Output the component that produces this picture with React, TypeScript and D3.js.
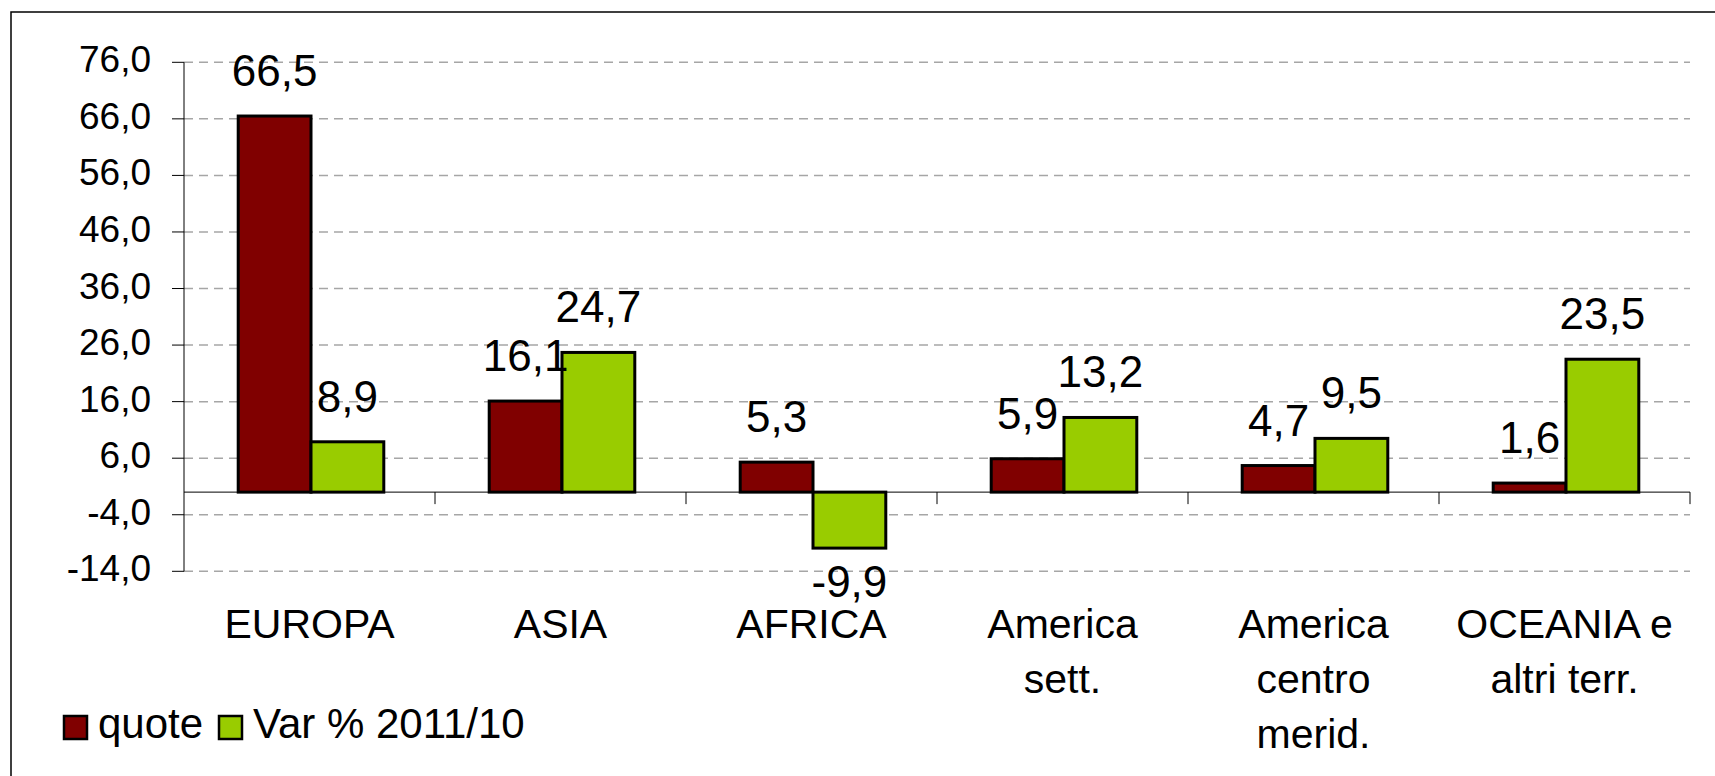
import React, { useRef, useEffect } from "react";
import * as d3 from "d3";

const categories = ["EUROPA", "ASIA", "AFRICA", "America sett.", "America centro merid.", "OCEANIA e altri terr."];
const categoryLines = [["EUROPA"], ["ASIA"], ["AFRICA"], ["America", "sett."], ["America", "centro", "merid."], ["OCEANIA e", "altri terr."]];
const seriesNames = ["quote", "Var % 2011/10"];
const quote = [66.5, 16.1, 5.3, 5.9, 4.7, 1.6];
const varPct = [8.9, 24.7, -9.9, 13.2, 9.5, 23.5];
const yTicks = [-14, -4, 6, 16, 26, 36, 46, 56, 66, 76];
const colors = ["#800000", "#99CC00"];

const W = 1715;
const H = 776;
const FONT = "'Liberation Sans', Arial, sans-serif";

const App = () => {
  const ref = useRef<SVGSVGElement>(null);

  useEffect(() => {
    const svg = d3.select(ref.current);
    svg.selectAll("*").remove();

    const it = d3.formatLocale({ decimal: ",", thousands: ".", grouping: [3], currency: ["", "€"], minus: "-" });
    const fmt = it.format(".1f");

    const left = 184, right = 1690, top = 62.3, bottom = 571.3;

    const y = d3.scaleLinear().domain([-14, 76]).range([bottom, top]);
    const x = d3.scaleBand().domain(categories).range([left, right]).padding(0);
    const groupW = x.bandwidth() * 0.58;
    const x1 = d3.scaleBand().domain(seriesNames).range([0, groupW]).padding(0);

    // frame
    svg.append("rect")
      .attr("x", 11).attr("y", 12)
      .attr("width", W + 20).attr("height", H + 20)
      .attr("fill", "white").attr("stroke", "#000").attr("stroke-width", 1.5);

    // grid
    svg.append("g")
      .selectAll("line")
      .data(yTicks)
      .join("line")
        .attr("x1", left).attr("x2", right)
        .attr("y1", d => y(d)).attr("y2", d => y(d))
        .attr("stroke", "#a6a6a6")
        .attr("stroke-width", 1.5)
        .attr("stroke-dasharray", "9,6");

    // y axis
    const yAxis = svg.append("g");
    yAxis.append("line")
      .attr("x1", left).attr("x2", left)
      .attr("y1", y(76)).attr("y2", y(-14))
      .attr("stroke", "#000").attr("stroke-width", 1);
    yAxis.selectAll("line.tick")
      .data(yTicks)
      .join("line")
        .attr("class", "tick")
        .attr("x1", left - 12).attr("x2", left)
        .attr("y1", d => y(d)).attr("y2", d => y(d))
        .attr("stroke", "#000").attr("stroke-width", 1);
    yAxis.selectAll("text")
      .data(yTicks)
      .join("text")
        .attr("x", 151)
        .attr("y", d => y(d) + 10)
        .attr("text-anchor", "end")
        .attr("font-family", FONT)
        .attr("font-size", 37)
        .text(d => fmt(d));

    // zero line + category ticks
    svg.append("line")
      .attr("x1", left).attr("x2", right)
      .attr("y1", y(0)).attr("y2", y(0))
      .attr("stroke", "#000").attr("stroke-width", 1);
    svg.append("g")
      .selectAll("line")
      .data(categories)
      .join("line")
        .attr("x1", d => (x(d) as number) + x.bandwidth())
        .attr("x2", d => (x(d) as number) + x.bandwidth())
        .attr("y1", y(0)).attr("y2", y(0) + 12)
        .attr("stroke", "#000").attr("stroke-width", 1);

    // bars
    const rows = categories.map((c, i) => ({ cat: c, values: [quote[i], varPct[i]] }));
    const groups = svg.append("g")
      .selectAll("g")
      .data(rows)
      .join("g")
        .attr("transform", d => `translate(${(x(d.cat) as number) + (x.bandwidth() - groupW) / 2 + 1.5},0)`);

    groups.selectAll("rect")
      .data(d => d.values.map((v, j) => ({ v, s: seriesNames[j], j })))
      .join("rect")
        .attr("x", d => x1(d.s) as number)
        .attr("width", x1.bandwidth())
        .attr("y", d => y(Math.max(0, d.v)))
        .attr("height", d => Math.abs(y(d.v) - y(0)))
        .attr("fill", d => colors[d.j])
        .attr("stroke", "#000")
        .attr("stroke-width", 3);

    groups.selectAll("text")
      .data(d => d.values.map((v, j) => ({ v, s: seriesNames[j], j })))
      .join("text")
        .attr("x", d => (x1(d.s) as number) + x1.bandwidth() / 2)
        .attr("y", d => d.v >= 0 ? y(d.v) - 30 : y(d.v) + 49)
        .attr("text-anchor", "middle")
        .attr("font-family", FONT)
        .attr("font-size", 44)
        .text(d => fmt(d.v));

    // category labels
    svg.append("g")
      .selectAll("text")
      .data(categoryLines)
      .join("text")
        .attr("text-anchor", "middle")
        .attr("font-family", FONT)
        .attr("font-size", 41)
        .each(function (lines, i) {
          const cx = (x(categories[i]) as number) + x.bandwidth() / 2;
          d3.select(this).selectAll("tspan")
            .data(lines)
            .join("tspan")
              .attr("x", cx)
              .attr("y", (d, k) => 637.5 + k * 55)
              .text(d => d);
        });

    // legend
    const legendX = [64, 219];
    const legend = svg.append("g")
      .selectAll("g")
      .data(seriesNames)
      .join("g")
        .attr("transform", (d, i) => `translate(${legendX[i]},716)`);
    legend.append("rect")
      .attr("width", 23).attr("height", 23)
      .attr("fill", (d, i) => colors[i])
      .attr("stroke", "#000").attr("stroke-width", 2.5);
    legend.append("text")
      .attr("x", 34).attr("y", 22)
      .attr("font-family", FONT)
      .attr("font-size", 42)
      .text(d => d);
  }, []);

  return (
    <div style={{ position: "absolute", left: 0, top: 0 }}>
      <svg ref={ref} width={W} height={H} style={{ display: "block" }}></svg>
    </div>
  );
};

export default App;
